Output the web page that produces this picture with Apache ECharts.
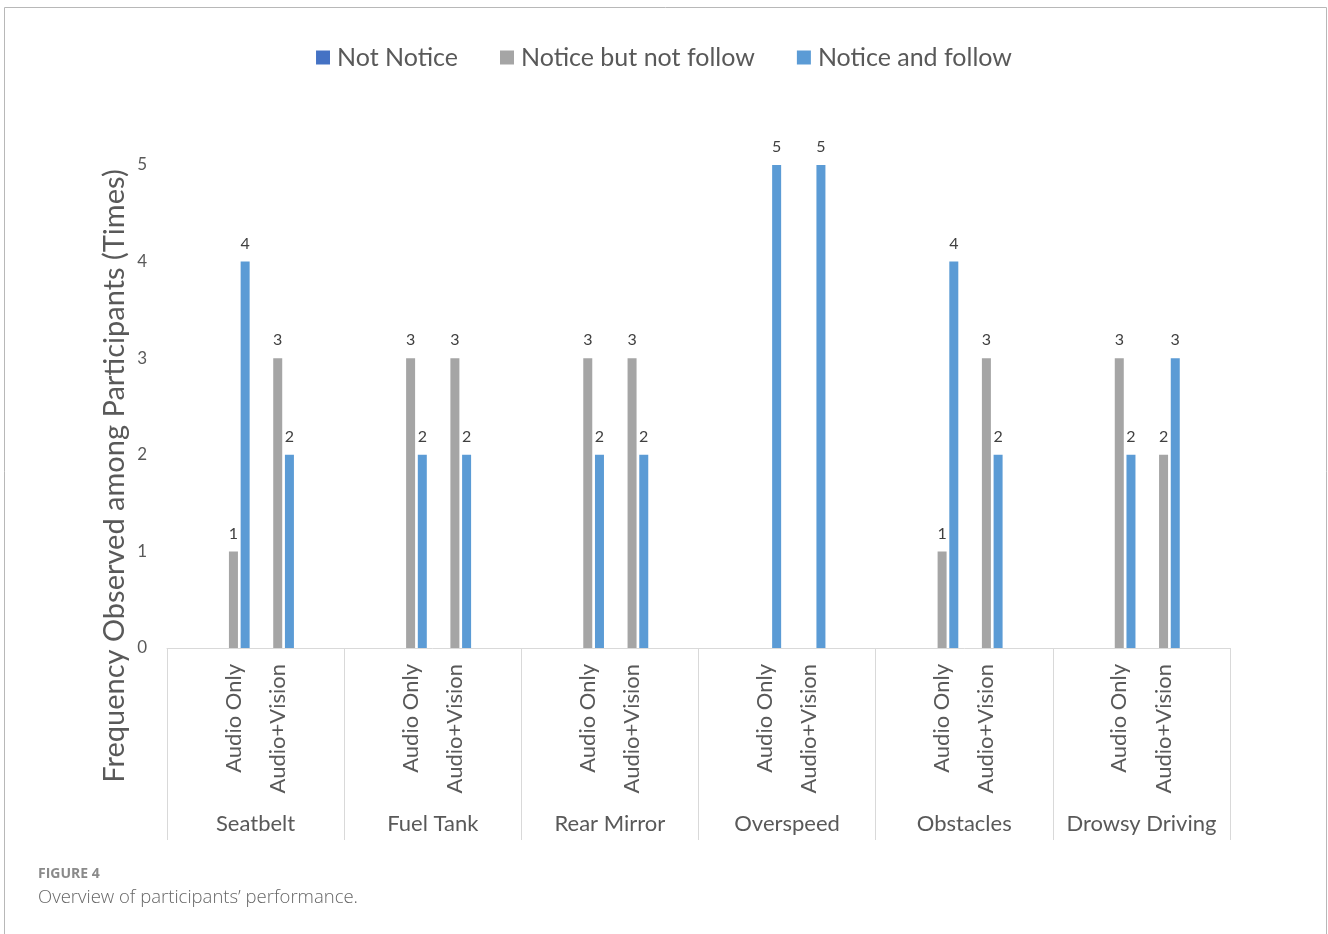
<!DOCTYPE html>
<html>
<head>
<meta charset="utf-8">
<script src="https://cdn.jsdelivr.net/npm/echarts@6/dist/echarts.min.js"></script>
<style>
html,body{margin:0;padding:0;background:#fff;}
#chart{width:1328px;height:934px;}
</style>
</head>
<body>
<div id="chart"></div>
<script>
// ---- data ----
const groups = ['Seatbelt', 'Fuel Tank', 'Rear Mirror', 'Overspeed', 'Obstacles', 'Drowsy Driving'];
const conditions = ['Audio Only', 'Audio+Vision'];
const seriesNames = ['Not Notice', 'Notice but not follow', 'Notice and follow'];
// values per (group, condition), in order: group1-AO, group1-AV, group2-AO, ...
const notNotice       = [null, null, null, null, null, null, null, null, null, null, null, null];
const noticeNotFollow = [1, 3, 3, 3, 3, 3, null, null, 1, 3, 3, 2];
const noticeAndFollow = [4, 2, 2, 2, 2, 2, 5, 5, 4, 2, 2, 3];
const yTicks = [0, 1, 2, 3, 4, 5];
const yTitle = 'Frequency Observed among Participants (Times)';

// Each group occupies four equal leaf slots: blank, Audio Only, Audio+Vision, blank
function leafLabels() {
  const out = [];
  groups.forEach(() => { out.push(''); conditions.forEach(c => out.push(c)); out.push(''); });
  return out;
}
function leafData(arr) {
  const out = [];
  groups.forEach((g, gi) => {
    out.push(null);
    conditions.forEach((c, ci) => out.push(arr[gi * conditions.length + ci]));
    out.push(null);
  });
  return out;
}

const textColor = '#595959';
const lineColor = '#d9d9d9';
const font = 'Lato, "Open Sans", sans-serif';
const colors = ['#4472C4', '#A5A5A5', '#5B9BD5'];
const valueArrays = [notNotice, noticeNotFollow, noticeAndFollow];

const chart = echarts.init(document.getElementById('chart'));
chart.setOption({
  animation: false,
  textStyle: { fontFamily: font },
  color: colors,
  legend: {
    top: 40,
    left: 'center',
    itemWidth: 14,
    itemHeight: 14,
    itemGap: 42,
    icon: 'rect',
    textStyle: { fontSize: 25, color: textColor, fontFamily: font, padding: [0, 0, 0, 2] },
    data: seriesNames
  },
  grid: { left: 167, right: 98, top: 165, bottom: 286, containLabel: false },
  xAxis: [
    {
      type: 'category',
      data: leafLabels(),
      position: 'bottom',
      axisLine: { show: true, lineStyle: { color: lineColor, width: 1 } },
      axisTick: { show: false },
      axisLabel: { interval: 0, rotate: 90, fontSize: 22, color: textColor, margin: 16, fontFamily: font },
      splitLine: { show: false }
    },
    {
      type: 'category',
      data: groups,
      position: 'bottom',
      axisLine: { show: false },
      axisTick: { show: true, length: 192, interval: 0, lineStyle: { color: lineColor, width: 1 } },
      axisLabel: { interval: 0, fontSize: 22, color: textColor, margin: 165, fontFamily: font },
      splitLine: { show: false }
    }
  ],
  yAxis: {
    type: 'value',
    min: yTicks[0],
    max: yTicks[yTicks.length - 1],
    interval: 1,
    axisLine: { show: false },
    axisTick: { show: false },
    splitLine: { show: false },
    axisLabel: { fontSize: 17, color: textColor, margin: 20, fontFamily: font }
  },
  series: seriesNames.map((name, i) => ({
    name: name,
    type: 'bar',
    xAxisIndex: 0,
    barWidth: 9,
    barGap: '30%',
    data: leafData(valueArrays[i]),
    label: { show: true, position: 'top', distance: 10, fontSize: 16, color: '#404040', fontFamily: font }
  })),
  graphic: [
    {
      type: 'rect',
      shape: { x: 4.5, y: 7.5, width: 1322, height: 960 },
      style: { fill: 'none', stroke: '#b8b8b8', lineWidth: 1 },
      silent: true
    },
    {
      type: 'text',
      x: 115, y: 476,
      rotation: Math.PI / 2,
      style: { text: yTitle, font: '29px Lato, "Open Sans", sans-serif', fill: textColor, align: 'center', verticalAlign: 'middle' }
    },
    {
      type: 'text',
      left: 38, top: 867,
      style: { text: 'FIGURE 4', font: 'bold 14px "Open Sans", sans-serif', fill: '#8a8a8a' }
    },
    {
      type: 'text',
      left: 38, top: 888,
      style: { text: 'Overview of participants\u2019 performance.', font: '300 18.5px "Open Sans", sans-serif', fill: '#666666' }
    }
  ]
});
</script>
</body>
</html>
